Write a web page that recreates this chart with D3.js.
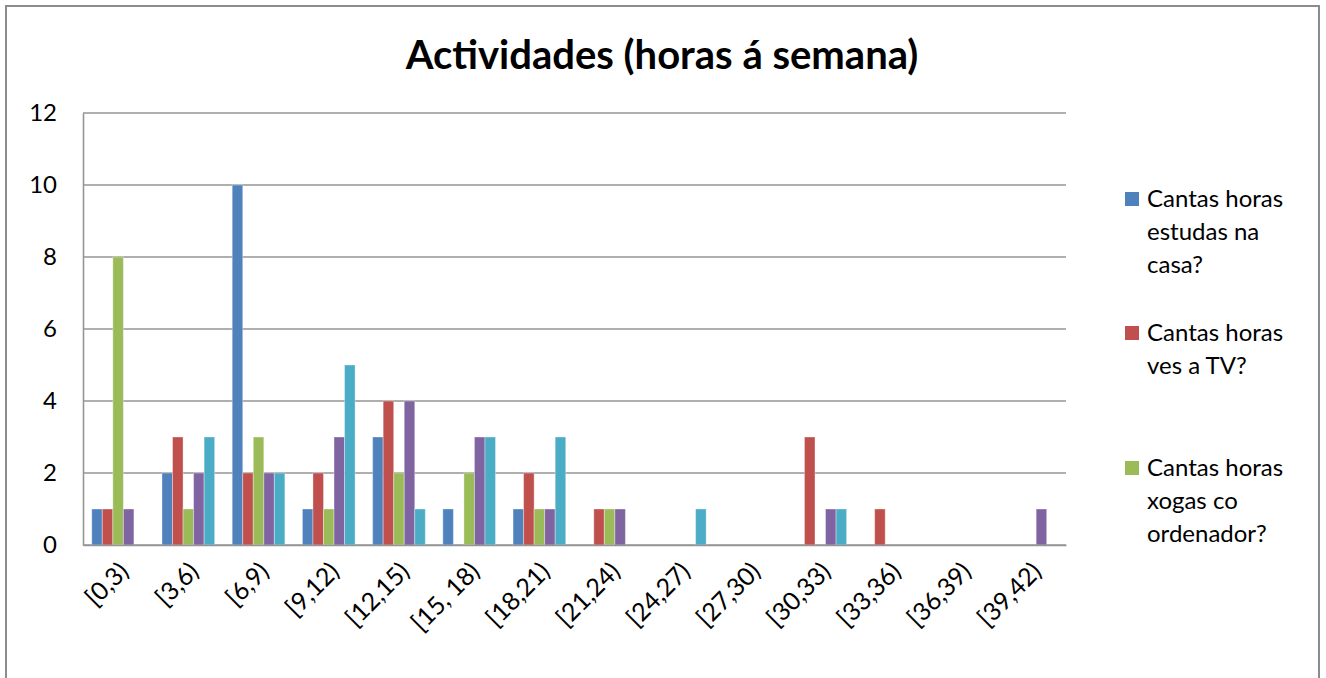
<!DOCTYPE html>
<html>
<head>
<meta charset="utf-8">
<script src="https://d3js.org/d3.v7.min.js"></script>
<style>
	body { margin:0; background:#fff; }
	text { font-family: Lato, "Open Sans", sans-serif; }
</style>
</head>
<body>
<div id="chart"></div>
<script>
var categories = ["[0,3)","[3,6)","[6,9)","[9,12)","[12,15)","[15, 18)","[18,21)","[21,24)","[24,27)","[27,30)","[30,33)","[33,36)","[36,39)","[39,42)"];

var estudas   = [1,2,10,1,3,1,1,0,0,0,0,0,0,0];
var tv        = [1,3,2,2,4,0,2,1,0,0,3,1,0,0];
var ordenador = [8,1,3,1,2,2,1,1,0,0,0,0,0,0];
var serie4    = [1,2,2,3,4,3,1,1,0,0,1,0,0,1];
var serie5    = [0,3,2,5,1,3,3,0,1,0,1,0,0,0];

var seriesValues = [estudas, tv, ordenador, serie4, serie5];
var seriesColors = ["#4F81BD","#C0504D","#9BBB59","#8064A2","#4BACC6"];

// only three entries fit in the legend box
var legendLabels = [
	["Cantas horas","estudas na","casa?"],
	["Cantas horas","ves a TV?"],
	["Cantas horas","xogas co","ordenador?"]
];

var yTicks = [0,2,4,6,8,10,12];

var width = 1326;
var height = 678;

var plot_x = 83;
var plot_y = 113;
var plot_w = 983;
var plot_h = 432;

var svg = d3.select("#chart")
			.append("svg")
			.attr("width", width+"px")
			.attr("height", height+"px");

	// outer chart border
	svg.append("rect")
		.attr("x", 6)
		.attr("y", 6)
		.attr("width", 1313)
		.attr("height", 700)
		.attr("fill", "none")
		.attr("stroke", "#8c8c8c")
		.attr("stroke-width", 2);

	svg.append("text")
		.attr("text-anchor", "middle")
		.style("font-size", 40+"px")
		.style("font-weight", "bold")
		.attr("x", 662)
		.attr("y", 69)
		.attr("fill", "#000")
		.text("Actividades (horas á semana)");

var x = d3.scaleBand()
			.domain(categories)
			.range([plot_x, plot_x+plot_w])
			.paddingInner(0.25)
			.paddingOuter(0.125);

var xs = d3.scaleBand()
			.domain(d3.range(seriesValues.length))
			.range([0, x.bandwidth()]);

var y = d3.scaleLinear()
			.domain([0,12])
			.range([plot_y+plot_h, plot_y]);

var g = svg.append("g");

	// gridlines
	g.selectAll(".grid")
		.data(yTicks)
		.enter()
		.append("line")
		.attr("x1", plot_x)
		.attr("x2", plot_x+plot_w)
		.attr("y1", function(d){return y(d);})
		.attr("y2", function(d){return y(d);})
		.attr("stroke", "#959595")
		.attr("stroke-width", 1.6);

	// bars
	seriesValues.forEach(function(vals,s){
		g.selectAll(".bar"+s)
			.data(vals)
			.enter()
			.append("rect")
			.attr("x", function(d,i){return x(categories[i])+xs(s);})
			.attr("y", function(d){return y(d);})
			.attr("width", xs.bandwidth())
			.attr("height", function(d){return y(0)-y(d);})
			.attr("fill", seriesColors[s])
			.attr("stroke", "rgba(255,255,255,0.35)")
			.attr("stroke-width", 1);
	});

var yAxis = d3.axisLeft(y)
			.tickValues(yTicks)
			.tickSize(0)
			.tickPadding(26);

var ya = svg.append("g")
			.attr("transform", "translate("+plot_x+",0)")
			.call(yAxis);

	ya.select(".domain").attr("stroke", "#959595").attr("stroke-width", 1.6);
	ya.selectAll("text")
		.style("font-size", 24+"px")
		.attr("fill", "#000");

var xa = svg.append("g")
			.attr("transform", "translate(0,"+(plot_y+plot_h)+")")
			.call(d3.axisBottom(x).tickSize(0).tickPadding(0));

	xa.select(".domain").attr("stroke", "#959595").attr("stroke-width", 1.6);
	xa.selectAll("text")
		.style("font-size", 25+"px")
		.attr("fill", "#000")
		.attr("text-anchor", "end")
		.attr("dy", "0")
		.attr("transform", "translate(12,28) rotate(-45)");

	// legend
var legendTop = [207, 341, 476];

	legendLabels.forEach(function(lines,i){
		svg.append("rect")
			.attr("x", 1125)
			.attr("y", legendTop[i]-15)
			.attr("width", 14)
			.attr("height", 14)
			.attr("fill", seriesColors[i]);

		svg.append("text")
			.style("font-size", 24+"px")
			.attr("fill", "#000")
			.attr("x", 1147)
			.attr("y", legendTop[i])
			.selectAll("tspan")
			.data(lines)
			.enter()
			.append("tspan")
			.attr("x", 1147)
			.attr("dy", function(d,j){return j == 0 ? 0 : 33;})
			.text(function(d){return d;});
	});
</script>
</body>
</html>
